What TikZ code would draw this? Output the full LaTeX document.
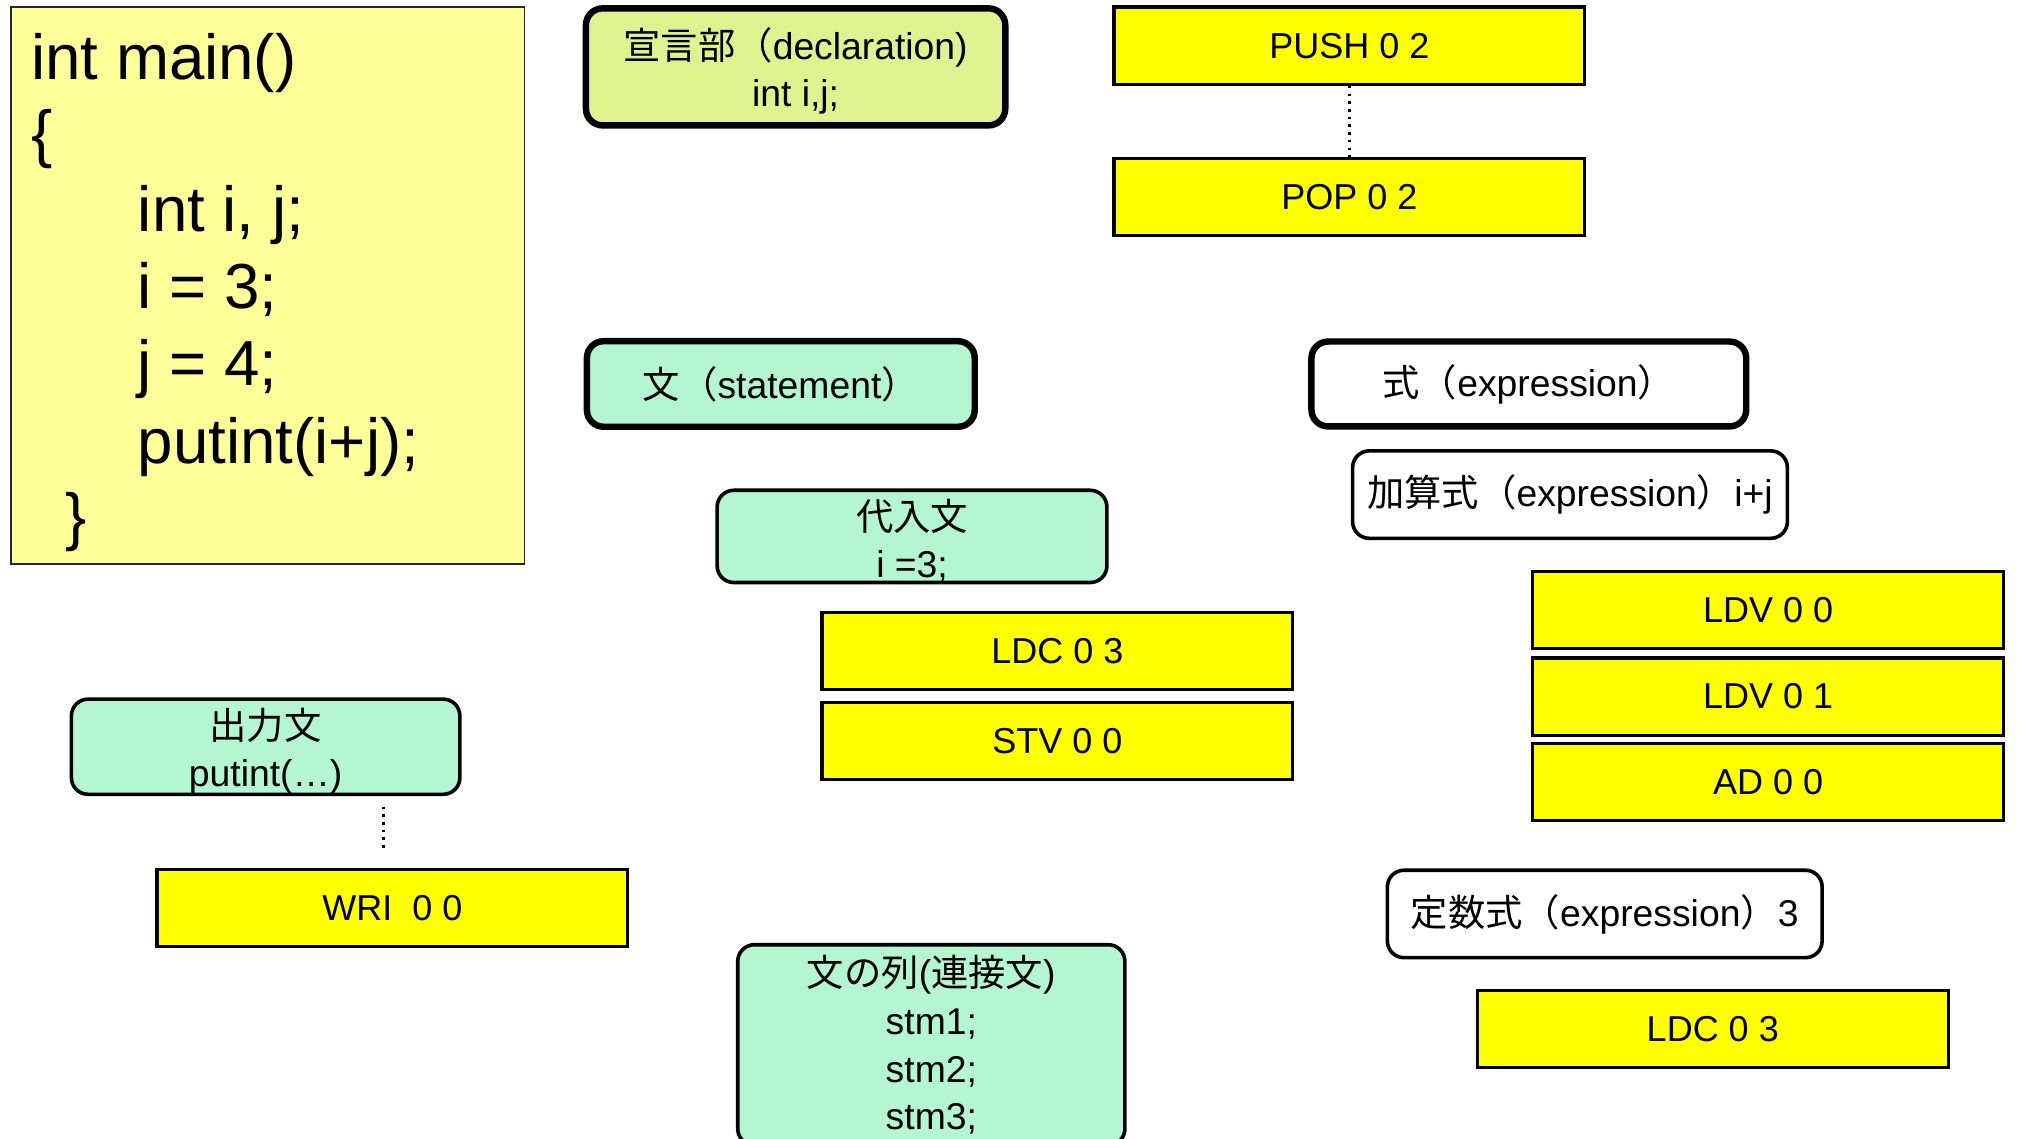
\documentclass[tikz,border=0pt]{standalone}
\usepackage{fontspec}
\setmainfont{Liberation Sans}
\newfontfamily\cjk{Noto Sans CJK JP}
\definecolor{codeyellow}{RGB}{255,255,153}
\definecolor{declgreen}{RGB}{223,242,143}
\definecolor{mint}{RGB}{179,246,208}
\definecolor{instryellow}{RGB}{255,255,0}
\newcommand{\topstrut}{\rule{0pt}{31pt}}
\begin{document}
\begin{tikzpicture}[x=1pt,y=-1pt,
  codefont/.style={font=\fontsize{49.5}{60}\selectfont},
  codeline/.style={codefont, anchor=base west, inner sep=0},
  instr/.style={draw=black, line width=2.5pt, fill=instryellow,
    minimum width=366pt, minimum height=60pt, inner sep=0,
    font=\fontsize{28}{34}\selectfont},
  syn/.style={draw=black, rounded corners=13pt, inner sep=0, align=center,
    font=\fontsize{29}{37}\selectfont},
  thickrim/.style={line width=5pt},
  thinrim/.style={line width=2.8pt},
  dotline/.style={line width=2pt, dash pattern=on 2pt off 4pt}
]
\clip (0,0) rectangle (1568,885);
\fill[white] (0,0) rectangle (1568,885);

% source program
\node[draw=black!85, line width=1pt, fill=codeyellow, anchor=north west,
      minimum width=399pt, minimum height=433pt, inner sep=0] (code) at (8,5) {};
\node[codeline] (c1) at (24,62) {int main()};
\node[codeline] (c2) at (24,121) {\{};
\node[codeline] (c3) at (107,180) {int i, j;};
\node[codeline] (c4) at (107,240) {i = 3;};
\node[codeline] (c5) at (107,300) {j = 4;};
\node[codeline] (c6) at (107,360) {putint(i+j);};
\node[codeline] (c7) at (51,419) {\}};

% declaration part
\node[syn, thickrim, fill=declgreen, minimum width=326pt, minimum height=91pt]
  (decl) at (618.5,52) {\topstrut{\cjk 宣言部（}declaration)\\int i,j;};
\node[instr] (push) at (1049,35.5) {PUSH 0 2};
\node[instr] (pop) at (1049,153) {POP 0 2};
\draw[dotline] (push.south) -- (pop.north);

% statements
\node[syn, thickrim, fill=mint, minimum width=301.5pt, minimum height=66.5pt]
  (stmt) at (607,298.5) {{\cjk 文（}statement{\cjk ）}};
\node[syn, thinrim, fill=mint, minimum width=303pt, minimum height=67pt]
  (assign) at (709,417) {\topstrut{\cjk 代入文}\\i =3;};
\node[instr] (ldca) at (822,506) {LDC 0 3};
\node[instr] (stv) at (822,576) {STV 0 0};

% output statement
\node[syn, thinrim, fill=mint, minimum width=302pt, minimum height=68pt]
  (out) at (206.5,580.5) {\topstrut{\cjk 出力文}\\putint(…)};
\coordinate (d1) at (298,627);
\coordinate (d2) at (298,660);
\draw[dotline] (d1) -- (d2);
\node[instr] (wri) at (305,706) {WRI\ \ 0 0};

% statement sequence
\node[syn, thinrim, fill=mint, minimum width=301pt, minimum height=156pt, anchor=north]
  (seq) at (724,733) {{\cjk 文の列}({\cjk 連接文})\\stm1;\\stm2;\\stm3;};

% expressions
\node[syn, thickrim, fill=white, minimum width=338pt, minimum height=66pt]
  (expr) at (1188.5,298.5) {{\cjk 式（}expression{\cjk ）}};
\node[syn, thinrim, fill=white, minimum width=338pt, minimum height=68pt]
  (add) at (1220.5,384.5) {{\cjk 加算式（}expression{\cjk ）}i+j};
\node[instr] (ldv0) at (1374.5,474) {LDV 0 0};
\node[instr] (ldv1) at (1374.5,541.5) {LDV 0 1};
\node[instr] (ad) at (1374.5,608) {AD 0 0};
\node[syn, thinrim, fill=white, minimum width=338pt, minimum height=68pt]
  (const) at (1247.5,710.5) {{\cjk 定数式（}expression{\cjk ）}3};
\node[instr] (ldcb) at (1331.5,800) {LDC 0 3};
\end{tikzpicture}
\end{document}
